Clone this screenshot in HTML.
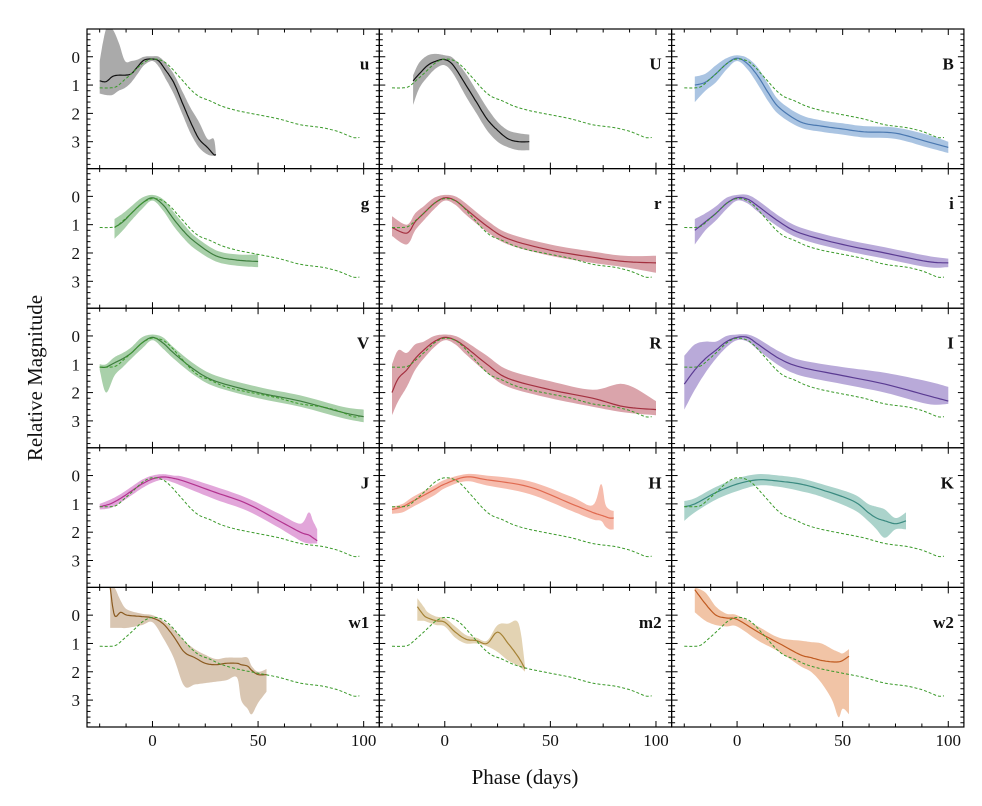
<!DOCTYPE html>
<html><head><meta charset="utf-8"><style>
html,body{margin:0;padding:0;background:#fff;}
svg{display:block;font-family:"Liberation Serif",serif;}
</style></head><body>
<svg id="chart" width="982" height="806" viewBox="0 0 982 806" xmlns="http://www.w3.org/2000/svg"></svg>
<script>
// Template (green dashed) curve
const tplPhase=[-25,-20,-17,-13,-10,-5,-2,0,3,6,9,12,15,18,22,27,33,40,50,60,70,80,86,90,95,98];
const tplMag=[1.1,1.1,1.05,0.8,0.6,0.25,0.12,0.08,0.1,0.2,0.4,0.65,0.9,1.15,1.4,1.55,1.75,1.9,2.05,2.2,2.4,2.5,2.6,2.7,2.85,2.85];
const xTicks=[0,50,100];
const yTicks=[0,1,2,3];

const uPh=[-25,-22,-19,-16,-13,-10,-7,-4,0,3,6,10,14,18,22,26,29,30];
const uMean=[0.85,0.88,0.7,0.65,0.65,0.6,0.35,0.12,0.08,0.15,0.45,0.9,1.6,2.3,2.9,3.2,3.45,3.45];
const uLo=[0.15,-1,-1,-0.5,0.15,0.15,0.1,0.0,-0.02,0.0,0.2,0.6,1.2,1.8,2.3,2.9,2.9,3.4];
const uHi=[1.3,1.35,1.35,1.2,1.1,0.9,0.6,0.3,0.15,0.35,0.75,1.3,2.0,2.7,3.2,3.45,3.5,3.5];

const U_Ph=[-15,-12,-8,-4,0,4,10,15,20,25,30,35,40];
const U_Mean=[0.85,0.6,0.3,0.15,0.1,0.3,1.0,1.6,2.2,2.6,2.9,3.0,3.0];
const U_Lo=[0.65,0.2,-0.05,-0.1,-0.05,0.05,0.6,1.2,1.8,2.3,2.6,2.7,2.75];
const U_Hi=[1.7,1.1,0.7,0.4,0.3,0.6,1.4,2.0,2.6,3.0,3.2,3.3,3.3];

const BPh=[-20,-15,-10,-5,0,5,10,15,20,30,40,50,60,75,90,100];
const BMean=[1.0,0.9,0.6,0.25,0.05,0.25,0.7,1.3,1.8,2.3,2.45,2.55,2.65,2.7,3.0,3.2];
const BLo=[0.7,0.6,0.3,0.05,-0.05,0.05,0.4,1.0,1.55,2.05,2.25,2.35,2.45,2.5,2.75,3.0];
const BHi=[1.6,1.2,0.9,0.45,0.15,0.45,1.0,1.6,2.05,2.5,2.65,2.75,2.85,2.9,3.2,3.4];

const gPh=[-18,-14,-10,-5,0,5,10,15,20,30,40,50];
const gMean=[1.1,0.9,0.6,0.25,0.05,0.3,0.8,1.25,1.6,2.1,2.25,2.3];
const gLo=[0.8,0.6,0.35,0.05,-0.05,0.1,0.55,1.0,1.4,1.9,2.05,2.05];
const gHi=[1.5,1.2,0.85,0.45,0.15,0.5,1.05,1.5,1.85,2.3,2.45,2.5];

const rPh=[-25,-18,-14,-10,-5,0,5,10,20,30,50,70,85,100];
const rMean=[1.1,1.3,0.9,0.6,0.25,0.05,0.15,0.45,1.05,1.5,1.9,2.15,2.3,2.35];
const rLo=[0.7,1.0,0.6,0.35,0.05,-0.05,0.0,0.25,0.85,1.3,1.7,1.95,2.1,2.1];
const rHi=[1.4,1.7,1.2,0.85,0.45,0.15,0.3,0.65,1.25,1.7,2.1,2.35,2.5,2.7];

const iPh=[-20,-15,-10,-5,0,5,10,20,30,50,70,90,100];
const iMean=[1.2,0.9,0.6,0.25,0.05,0.1,0.35,0.9,1.3,1.7,2.0,2.3,2.35];
const iLo=[0.8,0.6,0.35,0.05,-0.05,-0.05,0.15,0.7,1.1,1.5,1.8,2.1,2.2];
const iHi=[1.7,1.2,0.85,0.45,0.15,0.25,0.55,1.1,1.5,1.9,2.2,2.5,2.5];

const VPh=[-25,-22,-18,-14,-10,-5,0,5,10,20,30,50,70,90,100];
const VMean=[1.1,1.1,0.95,0.8,0.6,0.25,0.05,0.25,0.6,1.2,1.6,2.0,2.3,2.7,2.85];
const VLo=[1.0,1.0,0.75,0.6,0.4,0.05,-0.05,0.05,0.4,1.0,1.4,1.8,2.1,2.5,2.6];
const VHi=[1.2,2.0,1.4,1.1,0.8,0.45,0.15,0.45,0.8,1.4,1.8,2.2,2.5,2.9,3.05];

const RPh=[-25,-22,-18,-14,-10,-5,0,5,10,20,30,50,70,85,100];
const RMean=[2.0,1.5,1.2,0.8,0.5,0.2,0.05,0.15,0.4,1.0,1.5,1.9,2.2,2.5,2.6];
const RLo=[1.0,0.5,0.6,0.3,0.2,0.0,-0.05,0.0,0.2,0.7,1.2,1.6,1.9,1.7,2.3];
const RHi=[2.8,2.3,1.8,1.2,0.8,0.4,0.15,0.3,0.65,1.3,1.8,2.2,2.5,2.7,2.8];

const IPh=[-25,-20,-15,-10,-5,0,5,10,20,30,50,70,90,100];
const IMean=[1.7,1.2,0.8,0.5,0.2,0.05,0.05,0.3,0.8,1.1,1.4,1.7,2.1,2.3];
const ILo=[0.7,0.3,0.2,0.2,0.0,-0.05,-0.05,0.1,0.55,0.85,1.1,1.3,1.6,1.8];
const IHi=[2.6,1.9,1.3,0.8,0.4,0.15,0.2,0.5,1.05,1.4,1.7,2.0,2.4,2.4];

const JPh=[-25,-20,-15,-10,-5,0,5,10,15,30,45,60,70,74,76,78];
const JMean=[1.1,1.0,0.8,0.55,0.3,0.12,0.05,0.1,0.2,0.6,1.0,1.6,2.0,2.1,2.2,2.3];
const JLo=[1.0,0.85,0.65,0.4,0.15,0.0,-0.05,0.0,0.05,0.4,0.8,1.35,1.7,1.3,1.6,1.9];
const JHi=[1.2,1.15,0.95,0.7,0.45,0.25,0.15,0.25,0.4,0.85,1.25,1.85,2.3,2.4,2.4,2.4];

const HPh=[-25,-20,-15,-5,0,10,20,40,60,70,74,76,78,80];
const HMean=[1.2,1.1,0.9,0.5,0.3,0.05,0.15,0.4,1.0,1.3,1.4,1.45,1.5,1.5];
const HLo=[1.1,1.0,0.75,0.35,0.15,-0.05,0.0,0.2,0.75,1.05,0.3,1.0,1.2,1.25];
const HHi=[1.35,1.3,1.1,0.7,0.45,0.2,0.35,0.65,1.25,1.55,1.6,1.8,1.9,1.9];

const KPh=[-25,-20,-10,0,10,20,30,40,55,62,66,70,75,80];
const KMean=[1.1,1.0,0.6,0.3,0.15,0.2,0.3,0.5,0.9,1.3,1.5,1.6,1.7,1.6];
const KLo=[0.9,0.8,0.4,0.1,-0.05,0.0,0.1,0.3,0.65,1.0,1.1,1.2,1.5,1.3];
const KHi=[1.6,1.3,0.85,0.55,0.35,0.4,0.55,0.75,1.2,1.6,1.9,2.2,1.9,1.9];

const w1Ph=[-20,-18,-15,-12,-5,0,5,10,15,20,25,30,35,40,42,45,47,50,54];
const w1Mean=[-1.0,0.0,-0.1,0.0,0.05,0.1,0.3,0.75,1.3,1.5,1.7,1.75,1.7,1.7,1.75,1.8,1.95,2.1,2.1];
const w1Lo=[-1.0,-1.0,-0.5,-0.2,-0.05,0.0,0.2,0.5,0.9,1.2,1.4,1.55,1.5,1.5,1.5,1.5,1.8,2.0,1.9];
const w1Hi=[0.45,0.45,0.45,0.45,0.35,0.25,0.8,1.5,2.5,2.45,2.4,2.35,2.3,2.2,3.0,3.3,3.5,3.1,2.7];

const m2Ph=[-13,-10,-8,-4,0,5,10,15,20,25,30,35,38];
const m2Mean=[-0.3,0.0,0.1,0.2,0.25,0.6,0.85,0.9,1.0,0.6,1.0,1.5,1.9];
const m2Lo=[-0.6,-0.3,-0.1,0.05,0.1,0.4,0.7,0.8,0.9,0.35,0.3,0.3,1.8];
const m2Hi=[0.2,0.2,0.25,0.35,0.4,0.8,1.0,1.0,1.1,1.3,1.6,1.8,2.0];

const w2Ph=[-20,-15,-10,-5,0,10,20,30,35,40,45,48,50,53];
const w2Mean=[-0.9,-0.4,0.0,0.1,0.15,0.6,1.0,1.4,1.5,1.6,1.65,1.65,1.6,1.45];
const w2Lo=[-1.0,-0.8,-0.3,-0.05,0.0,0.4,0.8,0.9,0.95,1.0,1.2,1.3,1.35,1.2];
const w2Hi=[-0.1,0.2,0.35,0.4,0.4,0.9,1.3,1.8,2.0,2.4,3.0,3.6,3.3,3.5];

const panels=[
 {name:'u',ph:uPh,mean:uMean,lo:uLo,hi:uHi,fill:'#aaaaaa',line:'#111111'},
 {name:'U',ph:U_Ph,mean:U_Mean,lo:U_Lo,hi:U_Hi,fill:'#aaaaaa',line:'#111111'},
 {name:'B',ph:BPh,mean:BMean,lo:BLo,hi:BHi,fill:'#aac4e2',line:'#4a78b0'},
 {name:'g',ph:gPh,mean:gMean,lo:gLo,hi:gHi,fill:'#a9d0aa',line:'#3d7d3d'},
 {name:'r',ph:rPh,mean:rMean,lo:rLo,hi:rHi,fill:'#daa4ab',line:'#a3303f'},
 {name:'i',ph:iPh,mean:iMean,lo:iLo,hi:iHi,fill:'#b9aad9',line:'#5a3b92'},
 {name:'V',ph:VPh,mean:VMean,lo:VLo,hi:VHi,fill:'#a9d0aa',line:'#3d7d3d'},
 {name:'R',ph:RPh,mean:RMean,lo:RLo,hi:RHi,fill:'#daa4ab',line:'#a3303f'},
 {name:'I',ph:IPh,mean:IMean,lo:ILo,hi:IHi,fill:'#b9aad9',line:'#5a3b92'},
 {name:'J',ph:JPh,mean:JMean,lo:JLo,hi:JHi,fill:'#e2a6da',line:'#b2338f'},
 {name:'H',ph:HPh,mean:HMean,lo:HLo,hi:HHi,fill:'#f6bcad',line:'#e06a50'},
 {name:'K',ph:KPh,mean:KMean,lo:KLo,hi:KHi,fill:'#abd3cb',line:'#3a8a80'},
 {name:'w1',ph:w1Ph,mean:w1Mean,lo:w1Lo,hi:w1Hi,fill:'#d9c6b2',line:'#8a5a20'},
 {name:'m2',ph:m2Ph,mean:m2Mean,lo:m2Lo,hi:m2Hi,fill:'#e3d3b3',line:'#a58235'},
 {name:'w2',ph:w2Ph,mean:w2Mean,lo:w2Lo,hi:w2Hi,fill:'#f1c4a6',line:'#c05a20'}
];

const NS='http://www.w3.org/2000/svg';
const svg=document.getElementById('chart');
const L=87, T=29, PW=292.3, PH=139.6;
const X0=-31, X1=107.4, Y0=-0.98, Y1=3.95;
function mk(tag,attrs,parent){const e=document.createElementNS(NS,tag);for(const k in attrs)e.setAttribute(k,attrs[k]);(parent||svg).appendChild(e);return e;}
function clamp(v){return Math.max(Y0,Math.min(Y1,v));}
// Catmull-Rom smoothing of a screen-space point list (rendering only)
function smooth(pts){
  const out=[];
  for(let i=0;i<pts.length-1;i++){
    const p0=pts[Math.max(0,i-1)],p1=pts[i],p2=pts[i+1],p3=pts[Math.min(pts.length-1,i+2)];
    for(let s=0;s<8;s++){
      const t=s/8,t2=t*t,t3=t2*t;
      const f=(a,b,c,d)=>0.5*((2*b)+(-a+c)*t+(2*a-5*b+4*c-d)*t2+(-a+3*b-3*c+d)*t3);
      out.push([f(p0[0],p1[0],p2[0],p3[0]),f(p0[1],p1[1],p2[1],p3[1])]);
    }
  }
  out.push(pts[pts.length-1]);
  return out;
}
function ptsStr(a){return a.map(q=>q[0].toFixed(1)+','+q[1].toFixed(1)).join(' ');}

panels.forEach((p,idx)=>{
  const col=idx%3,row=Math.floor(idx/3);
  const px=L+col*PW, py=T+row*PH;
  const sx=v=>px+(v-X0)/(X1-X0)*PW;
  const sy=v=>py+(clamp(v)-Y0)/(Y1-Y0)*PH;
  const cy=y=>Math.max(py,Math.min(py+PH,y));
  const g=mk('g',{});
  
  
  const lo=smooth(p.ph.map((t,i)=>[sx(t),sy(p.lo[i])])).map(q=>[q[0],cy(q[1])]);
  const hi=smooth(p.ph.map((t,i)=>[sx(t),sy(p.hi[i])])).map(q=>[q[0],cy(q[1])]);
  const band=mk('polygon',{points:ptsStr(lo.concat(hi.reverse())),fill:p.fill,stroke:'none'},g);
  
  
  const mean=smooth(p.ph.map((t,i)=>[sx(t),sy(p.mean[i])])).map(q=>[q[0],cy(q[1])]);
  const ml=mk('polyline',{points:ptsStr(mean),fill:'none',stroke:p.line,'stroke-width':1.2},g);
  
  
  const tpl=smooth(tplPhase.map((t,i)=>[sx(t),sy(tplMag[i])]));
  const tl=mk('polyline',{points:ptsStr(tpl),fill:'none',stroke:'#3a9a2a','stroke-width':1,'stroke-dasharray':'3,2'},g);
  
  
  const fr=mk('rect',{x:px,y:py,width:PW,height:PH,fill:'none',stroke:'#000','stroke-width':1.2},g);
  
  
  for(let v=-25;v<=105;v+=12.5){
    const len=(v%50===0)?6:3.5; const x=sx(v);
    mk('line',{x1:x,y1:py+PH,x2:x,y2:py+PH-len,stroke:'#000','stroke-width':1},g);
    mk('line',{x1:x,y1:py,x2:x,y2:py+len,stroke:'#000','stroke-width':1},g);
  }
  for(let k=-4;k<=19;k++){
    const v=k*0.2; if(v<Y0||v>Y1)continue;
    const major=Math.abs(v-Math.round(v))<1e-6; const len=major?6:3.5; const y=sy(v);
    mk('line',{x1:px,y1:y,x2:px+len,y2:y,stroke:'#000','stroke-width':1},g);
    mk('line',{x1:px+PW,y1:y,x2:px+PW-len,y2:y,stroke:'#000','stroke-width':1},g);
  }
  const lab=mk('text',{x:px+PW-10,y:sy(0.45),'text-anchor':'end','font-size':17,'font-weight':'bold',fill:'#111'},g);
  lab.textContent=p.name;
  
  
  if(col===0){
    yTicks.forEach(v=>{
      const t=mk('text',{x:px-7,y:sy(v)+6,'text-anchor':'end','font-size':17,fill:'#111'},g);
      t.textContent=v;
      
      
    });
  }
  if(row===4){
    xTicks.forEach(v=>{
      const t=mk('text',{x:sx(v),y:py+PH+19,'text-anchor':'middle','font-size':17,fill:'#111'},g);
      t.textContent=v;
      
      
    });
  }
});
const yt=mk('text',{x:0,y:0,transform:'translate(42,378) rotate(-90)','text-anchor':'middle','font-size':21,fill:'#111'});
yt.textContent='Relative Magnitude';


const xt=mk('text',{x:525,y:784,'text-anchor':'middle','font-size':21,fill:'#111'});
xt.textContent='Phase (days)';


</script>
</body></html>
